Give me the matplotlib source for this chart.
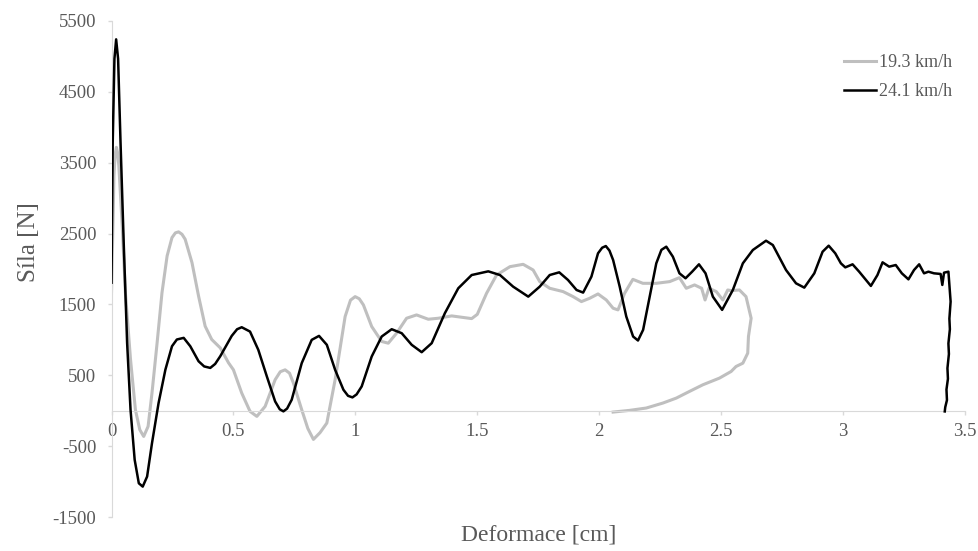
import matplotlib
matplotlib.use('Agg')
import matplotlib.pyplot as plt

plt.rcParams['font.family'] = ['Liberation Serif', 'DejaVu Serif']

# --- data ---
# 19.3 km/h (gray) - deformation [cm] and force [N]; curve loops back at the end
x_19 = [0, 0.010, 0.015, 0.020, 0.025, 0.030, 0.044, 0.057, 0.078, 0.098, 0.116, 0.132,
        0.150, 0.166, 0.187, 0.207, 0.228, 0.248, 0.262, 0.275, 0.289, 0.302, 0.330,
        0.357, 0.384, 0.411, 0.446, 0.480, 0.500, 0.534, 0.568, 0.596, 0.630, 0.671,
        0.692, 0.712, 0.730, 0.746, 0.780, 0.805, 0.828, 0.855, 0.883, 0.917, 0.958,
        0.980, 0.999, 1.016, 1.033, 1.067, 1.108, 1.135, 1.169, 1.210, 1.251, 1.299,
        1.340, 1.395, 1.436, 1.477, 1.500, 1.538, 1.579, 1.634, 1.688, 1.729, 1.756,
        1.797, 1.852, 1.893, 1.927, 1.961, 1.995, 2.029, 2.057, 2.077, 2.104, 2.138,
        2.179, 2.234, 2.289, 2.329, 2.357, 2.391, 2.420, 2.434, 2.450, 2.480, 2.507,
        2.527, 2.541, 2.575, 2.602, 2.623, 2.612, 2.609, 2.589, 2.561, 2.541, 2.493,
        2.425, 2.370, 2.316, 2.261, 2.193, 2.125, 2.057]
f_19 = [1660, 3316, 3620, 3717, 3640, 3458, 2608, 1665, 722, 14, -269, -363,
        -222, 250, 958, 1665, 2184, 2443, 2510, 2524, 2490, 2420, 2090,
        1618, 1193, 1005, 887, 675, 577, 249, -9, -80, 61, 437,
        550, 577, 530, 390, 14, -250, -405, -310, -174, 437, 1329,
        1560, 1610, 1580, 1493, 1188, 977, 953, 1094, 1305, 1352, 1291,
        1305, 1338, 1319, 1300, 1360, 1657, 1915, 2033, 2066, 1986, 1822,
        1728, 1681, 1610, 1540, 1587, 1648, 1563, 1446, 1423, 1657, 1854,
        1798, 1798, 1822, 1878, 1728, 1775, 1728, 1563, 1728, 1681, 1563,
        1704, 1695, 1704, 1610, 1305, 1047, 812, 671, 624, 554, 460,
        366, 272, 178, 108, 38, 5, -19]

# 24.1 km/h (black)
x_24 = [0, 0.005, 0.012, 0.019, 0.027, 0.037, 0.050, 0.064, 0.078, 0.095, 0.112, 0.128,
        0.146, 0.166, 0.193, 0.221, 0.248, 0.268, 0.296, 0.323, 0.357, 0.380, 0.405,
        0.425, 0.446, 0.493, 0.515, 0.534, 0.568, 0.602, 0.637, 0.671, 0.690, 0.705,
        0.720, 0.739, 0.780, 0.821, 0.851, 0.883, 0.917, 0.951, 0.970, 0.988, 1.005,
        1.026, 1.067, 1.108, 1.149, 1.190, 1.231, 1.272, 1.313, 1.367, 1.422, 1.477,
        1.545, 1.593, 1.647, 1.709, 1.756, 1.797, 1.836, 1.872, 1.907, 1.934, 1.968,
        1.995, 2.012, 2.027, 2.042, 2.057, 2.084, 2.111, 2.139, 2.159, 2.180, 2.207,
        2.234, 2.255, 2.275, 2.302, 2.329, 2.354, 2.381, 2.409, 2.436, 2.466, 2.504,
        2.548, 2.589, 2.630, 2.684, 2.712, 2.766, 2.807, 2.841, 2.882, 2.916, 2.941,
        2.968, 2.991, 3.009, 3.039, 3.066, 3.094, 3.114, 3.141, 3.162, 3.189, 3.216,
        3.241, 3.268, 3.291, 3.312, 3.332, 3.350, 3.373, 3.400, 3.407, 3.414, 3.432,
        3.441, 3.436, 3.438, 3.432, 3.434, 3.428, 3.430, 3.424, 3.426, 3.419, 3.417]
f_24 = [1807, 3788, 4967, 5241, 4967, 3788, 2373, 958, 14, -693, -1024, -1071,
        -929, -458, 108, 580, 910, 1005, 1028, 910, 698, 625, 604,
        660, 769, 1056, 1150, 1178, 1117, 859, 484, 131, 20, -9,
        30, 155, 671, 1000, 1056, 930, 577, 296, 210, 188, 230,
        343, 765, 1047, 1150, 1094, 930, 826, 953, 1376, 1728, 1915,
        1967, 1915, 1751, 1610, 1751, 1915, 1953, 1845, 1704, 1667, 1892,
        2221, 2300, 2324, 2260, 2127, 1751, 1329, 1047, 991, 1141, 1610,
        2080, 2270, 2315, 2174, 1939, 1869, 1962, 2066, 1939, 1610, 1423,
        1704, 2080, 2268, 2399, 2338, 1986, 1798, 1737, 1939, 2244, 2329,
        2221, 2080, 2023, 2066, 1962, 1845, 1761, 1915, 2094, 2033, 2056,
        1939, 1854, 1986, 2066, 1939, 1962, 1939, 1930, 1775, 1948, 1962,
        1540, 1300, 1150, 950, 800, 600, 450, 300, 150, 50, -10]

series_labels = ['19.3 km/h', '24.1 km/h']
x_ticks = [0, 0.5, 1, 1.5, 2, 2.5, 3, 3.5]
x_ticklabels = ['0', '0.5', '1', '1.5', '2', '2.5', '3', '3.5']
y_ticks = [-1500, -500, 500, 1500, 2500, 3500, 4500, 5500]
y_ticklabels = ['-1500', '-500', '500', '1500', '2500', '3500', '4500', '5500']

text_col = '#595959'
axis_col = '#D9D9D9'

fig = plt.figure(figsize=(9.79, 5.51), dpi=100)
ax = fig.add_axes([0.1139, 0.0617, 0.8718, 0.9002])

ax.plot(x_19, f_19, color='#BFBFBF', lw=2.2, label=series_labels[0], zorder=2)
ax.plot(x_24, f_24, color='black', lw=1.8, label=series_labels[1], zorder=3)

ax.set_xlim(0, 3.5)
ax.set_ylim(-1500, 5500)

ax.spines['top'].set_visible(False)
ax.spines['right'].set_visible(False)
ax.spines['bottom'].set_position(('data', 0))
ax.spines['bottom'].set_color(axis_col)
ax.spines['left'].set_color(axis_col)

ax.set_xticks(x_ticks)
ax.set_xticklabels(x_ticklabels)
ax.set_yticks(y_ticks)
ax.set_yticklabels(y_ticklabels)
ax.tick_params(axis='both', colors=axis_col, labelcolor=text_col, labelsize=13.5,
               length=3, width=1)
ax.tick_params(axis='x', pad=6)
ax.tick_params(axis='y', pad=8)

ax.set_xlabel('Deformace [cm]', fontsize=17, color=text_col)
ax.xaxis.set_label_coords(0.5, -0.016)
ax.set_ylabel('Síla [N]', fontsize=18, color=text_col)
ax.yaxis.set_label_coords(-0.084, 0.555)

leg = ax.legend(loc='upper left', bbox_to_anchor=(844 / 979, 1 - 54 / 551),
                bbox_transform=fig.transFigure, frameon=False, fontsize=13,
                handlelength=1.8, handletextpad=0.15, labelspacing=0.68,
                borderpad=0, borderaxespad=0)
for t in leg.get_texts():
    t.set_color(text_col)

plt.savefig('out.png', dpi=100)
